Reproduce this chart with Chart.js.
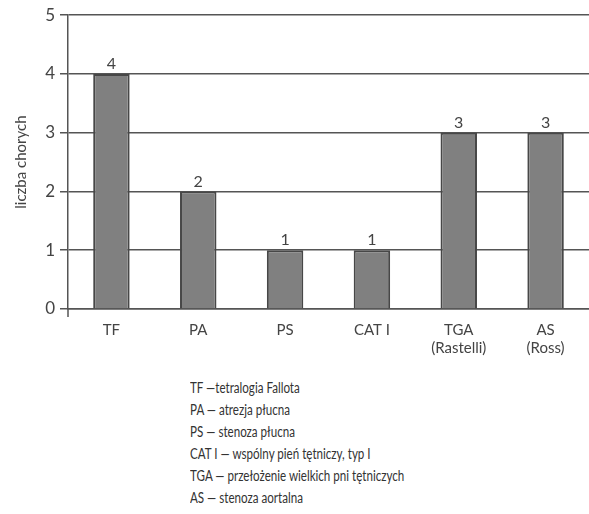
<!DOCTYPE html>
<html>
<head>
<meta charset="utf-8">
<script src="https://cdn.jsdelivr.net/npm/chart.js@4.4.1/dist/chart.umd.min.js"></script>
<style>
  html, body { margin: 0; padding: 0; background: #fff; }
  #wrap { position: relative; width: 589px; height: 362px; }
  #notes { position: absolute; left: 190px; top: 377px; font-family: "Lato", "DejaVu Sans", sans-serif;
           font-size: 14.5px; color: #333; line-height: 22px; white-space: nowrap;
           transform: scaleX(0.8); transform-origin: left top; }
</style>
</head>
<body>
<div id="wrap"><canvas id="c" width="589" height="362"></canvas></div>
<div id="notes"></div>
<script>
// Heart defect groups and number of patients in each
const categories = [["TF"], ["PA"], ["PS"], ["CAT I"], ["TGA", "(Rastelli)"], ["AS", "(Ross)"]];
const patients = [4, 2, 1, 1, 3, 3];
const yTicks = [0, 1, 2, 3, 4, 5];
const axisTitle = "liczba chorych";
const abbreviations = [
  "TF —tetralogia Fallota",
  "PA — atrezja płucna",
  "PS — stenoza płucna",
  "CAT I — wspólny pień tętniczy, typ I",
  "TGA — przełożenie wielkich pni tętniczych",
  "AS — stenoza aortalna"
];

const FONT = "'Lato', 'DejaVu Sans', sans-serif";

document.getElementById('notes').innerHTML = abbreviations.map(t => '<div>' + t + '</div>').join('');

// value labels above bars + small extension of the y axis below zero
const extras = {
  id: 'extras',
  afterDatasetsDraw(chart) {
    const ctx = chart.ctx;
    const meta = chart.getDatasetMeta(0);
    ctx.save();
    ctx.fillStyle = '#444';
    ctx.font = '16px ' + FONT;
    ctx.textAlign = 'center';
    ctx.textBaseline = 'bottom';
    meta.data.forEach((bar, i) => {
      ctx.fillText(String(patients[i]), bar.x, bar.y - 2);
    });
    const a = chart.chartArea;
    ctx.strokeStyle = '#555';
    ctx.lineWidth = 1.5;
    ctx.beginPath();
    ctx.moveTo(a.left, a.bottom);
    ctx.lineTo(a.left, a.bottom + 8);
    ctx.stroke();
    ctx.restore();
  }
};

new Chart(document.getElementById('c'), {
  type: 'bar',
  data: {
    labels: categories,
    datasets: [{
      data: patients,
      backgroundColor: '#808080',
      borderColor: '#474747',
      borderWidth: 2,
      barPercentage: 0.42,
      categoryPercentage: 1
    }]
  },
  options: {
    responsive: false,
    animation: false,
    layout: { padding: { top: 15, right: 0, left: 0, bottom: 0 } },
    plugins: { legend: { display: false }, tooltip: { enabled: false } },
    scales: {
      x: {
        grid: { display: false },
        border: { display: true, color: '#555', width: 1.5 },
        ticks: { color: '#444', font: { family: FONT, size: 15 }, padding: 4, maxRotation: 0, autoSkip: false },
        afterFit(s) { s.height = 362 - 309; }
      },
      y: {
        min: 0, max: 5,
        afterBuildTicks(s) { s.ticks = yTicks.map(v => ({ value: v })); },
        grid: { color: '#555', lineWidth: 1.5, tickLength: 8, drawTicks: true },
        border: { display: true, color: '#555', width: 1.5 },
        ticks: { color: '#444', font: { family: FONT, size: 17 }, padding: 5 },
        title: { display: true, text: axisTitle, color: '#444', font: { family: FONT, size: 15 }, padding: { top: 12, bottom: 4 } },
        afterFit(s) { s.width = 68; }
      }
    }
  },
  plugins: [extras]
});
</script>
</body>
</html>
